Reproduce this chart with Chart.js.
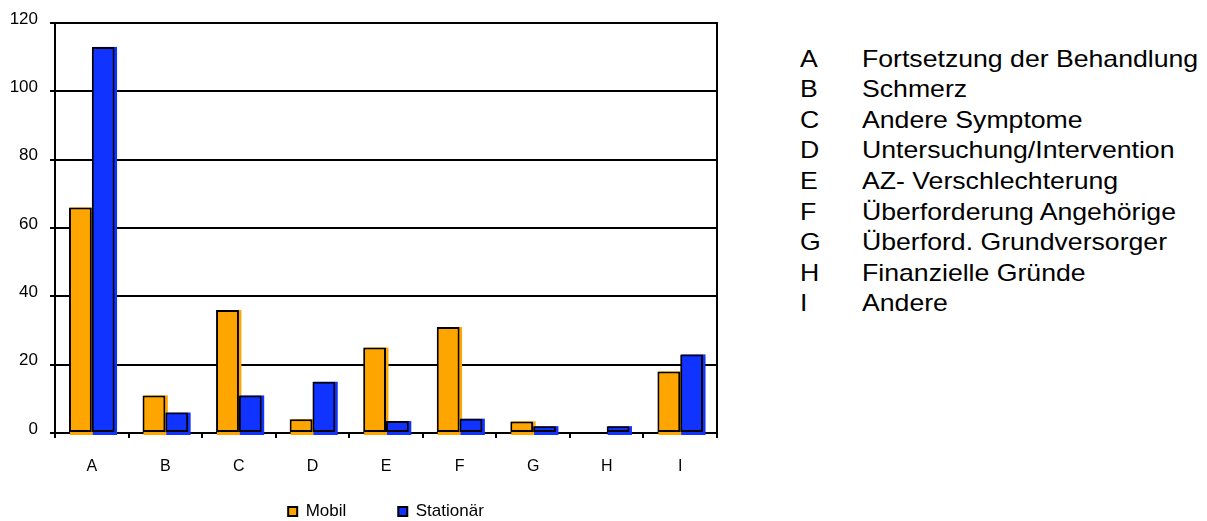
<!DOCTYPE html>
<html>
<head>
<meta charset="utf-8">
<script src="https://cdn.jsdelivr.net/npm/chart.js@4"></script>
<style>
  html, body { margin: 0; padding: 0; background: #fff; overflow: hidden; }
  #wrap { position: absolute; left: 0; top: 0; width: 730px; height: 530px; }
  .col { position: absolute; top: 43.7px; font-family: 'Liberation Sans', Arial, sans-serif;
         font-size: 24px; line-height: 30.6px; color: #000; transform: scaleX(1.11);
         transform-origin: left top; white-space: nowrap; }
</style>
</head>
<body>
<div id="wrap"><canvas id="chart"></canvas></div>
<div class="col" id="letters" style="left:800px"></div>
<div class="col" id="names" style="left:862px"></div>
<script>
let categories = ['A', 'B', 'C', 'D', 'E', 'F', 'G', 'H', 'I'];
let categoryNames = [
    'Fortsetzung der Behandlung',
    'Schmerz',
    'Andere Symptome',
    'Untersuchung/Intervention',
    'AZ- Verschlechterung',
    'Überforderung Angehörige',
    'Überford. Grundversorger',
    'Finanzielle Gründe',
    'Andere'
];
let mobil = [66, 11, 36, 4, 25, 31, 3.4, 0, 18];
let stationaer = [113, 6, 11, 15, 3.5, 4.2, 2, 2, 23];
let seriesNames = ['Mobil', 'Stationär'];
let yTicks = [0, 20, 40, 60, 80, 100, 120];

document.querySelector('#letters').innerHTML = categories.map(c => `<div>${c}</div>`).join('');
document.querySelector('#names').innerHTML = categoryNames.map(n => `<div>${n}</div>`).join('');

const font = "'Liberation Sans', Arial, sans-serif";

// fill colour drawn slightly past each bar, like the shadow in the original
const barShadow = {
    id: 'barShadow',
    beforeDatasetsDraw(chart) {
        let ctx = chart.ctx;
        ctx.save();
        chart.data.datasets.forEach((ds, i) => {
            chart.getDatasetMeta(i).data.forEach((bar, j) => {
                if (!ds.data[j]) return;
                let p = bar.getProps(['x', 'y', 'base', 'width'], true);
                ctx.fillStyle = ds.backgroundColor;
                ctx.fillRect(p.x - p.width / 2 + 1, p.y, p.width + 1.5, p.base - p.y + 3);
            });
        });
        ctx.restore();
    }
};

const rightEdge = {
    id: 'rightEdge',
    afterDatasetsDraw(chart) {
        let a = chart.chartArea;
        let ctx = chart.ctx;
        ctx.save();
        ctx.strokeStyle = '#000';
        ctx.lineWidth = 2;
        ctx.beginPath();
        ctx.moveTo(a.right, a.top - 1);
        ctx.lineTo(a.right, a.bottom + 5);
        ctx.stroke();
        ctx.restore();
    }
};

let ctx = document.querySelector('#chart').getContext('2d');
const chart = new Chart(ctx, {
    type: 'bar',
    data: {
        labels: categories,
        datasets: [{
            label: seriesNames[0],
            data: mobil,
            backgroundColor: '#FFA500',
            borderColor: '#000',
            borderWidth: 2,
            borderSkipped: false
        }, {
            label: seriesNames[1],
            data: stationaer,
            backgroundColor: '#1033FF',
            borderColor: '#000',
            borderWidth: 2,
            borderSkipped: false
        }]
    },
    options: {
        responsive: true,
        maintainAspectRatio: false,
        animation: false,
        layout: { padding: { top: 23, right: 13, left: 0, bottom: 0 } },
        datasets: { bar: { categoryPercentage: 0.62, barPercentage: 1.0 } },
        scales: {
            x: {
                grid: { display: true, drawOnChartArea: false, color: '#000', lineWidth: 2, tickLength: 5, offset: true },
                border: { color: '#000', width: 2 },
                ticks: { color: '#000', font: { family: font, size: 16 }, padding: 19 },
                afterFit: (s) => { s.height = 70; }
            },
            y: {
                min: 0,
                max: 120,
                afterBuildTicks: (s) => { s.ticks = yTicks.map(v => ({ value: v })); },
                grid: { color: '#000', lineWidth: 2, tickLength: 5 },
                border: { color: '#000', width: 2 },
                ticks: { color: '#000', font: { family: font, size: 17 }, padding: 12, labelOffset: -4 },
                afterFit: (s) => { s.width = 55; }
            }
        },
        plugins: {
            legend: {
                position: 'bottom',
                fullSize: false,
                labels: {
                    color: '#000',
                    font: { family: font, size: 17 },
                    boxWidth: 9,
                    boxHeight: 9,
                    padding: 0,
                    generateLabels: (c) => {
                        let items = Chart.defaults.plugins.legend.labels.generateLabels(c);
                        items.forEach(it => { it.lineWidth = 2; it.strokeStyle = '#000'; });
                        items[0].text = items[0].text + '           ';
                        return items;
                    }
                }
            },
            tooltip: { enabled: false }
        }
    },
    plugins: [barShadow, rightEdge]
});
</script>
</body>
</html>
